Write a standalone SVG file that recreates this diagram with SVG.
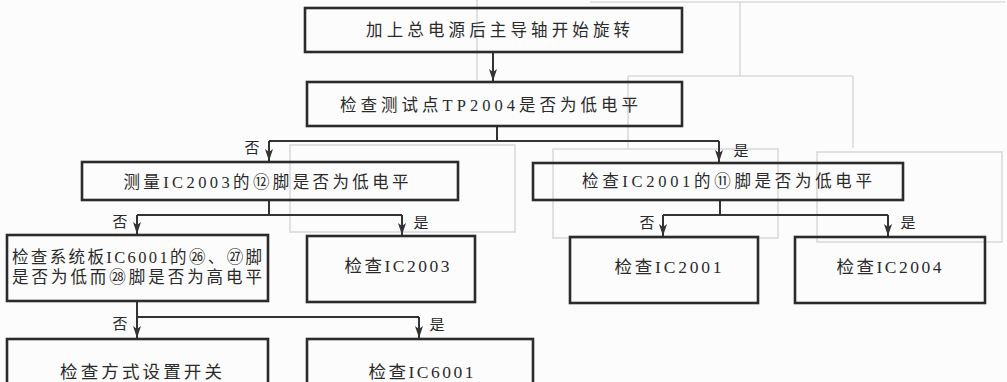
<svg xmlns="http://www.w3.org/2000/svg" width="1007" height="382" viewBox="0 0 1007 382">
<defs>
<marker id="arr" markerUnits="userSpaceOnUse" markerWidth="12" markerHeight="10" viewBox="0 0 12 10" refX="12" refY="5" orient="auto">
<path d="M0,1 L12,5 L0,9 L3,5 Z" fill="#333"/>
</marker>
<style>
.box{fill:none;stroke:#2b2b2b;stroke-width:2.6}
.t{font-family:"Liberation Serif","Noto Sans CJK SC",serif;font-size:16.5px;fill:#2a2a2a;text-anchor:middle}
.t2{font-family:"Liberation Serif","Noto Sans CJK SC",serif;font-size:17.5px;fill:#2a2a2a;text-anchor:middle}
.lb{font-family:"Noto Sans CJK SC",sans-serif;font-size:15px;fill:#2a2a2a;text-anchor:middle}
.c{fill:none;stroke:#333;stroke-width:2}
.ca{fill:none;stroke:#333;stroke-width:2;marker-end:url(#arr)}
.g{fill:none;stroke:#dadada;stroke-width:1.6}
</style>
</defs>
<rect width="1007" height="382" fill="#fcfcfc"/>
<g id="ghost">
<path class="g" d="M590,2 H1005 M740,2 V76 M628,76 H853 M628,76 V149 M853,76 V148 M477,0 V80"/>
<rect class="g" x="290" y="145" width="225" height="87"/>
<rect class="g" x="553" y="149" width="225" height="89"/>
<rect class="g" x="817" y="152" width="185" height="90"/>
</g>
<g id="connectors">
<path class="ca" d="M493,53 V81"/>
<path class="c" d="M497,127 V141 M269,141 H719"/>
<path class="ca" d="M269,141 V161"/>
<path class="ca" d="M719,141 V162"/>
<path class="c" d="M269,201 V215 M137,215 H402"/>
<path class="ca" d="M137,215 V234"/>
<path class="ca" d="M402,215 V235"/>
<path class="c" d="M720,201 V215 M663,215 H888"/>
<path class="ca" d="M663,215 V236"/>
<path class="ca" d="M888,215 V236"/>
<path class="c" d="M137,302 V317 H419"/>
<path class="ca" d="M137,317 V338"/>
<path class="ca" d="M419,317 V338"/>
<text class="lb" x="252" y="153">否</text>
<text class="lb" x="741" y="156">是</text>
<text class="lb" x="120" y="227">否</text>
<text class="lb" x="421" y="228">是</text>
<text class="lb" x="647" y="228">否</text>
<text class="lb" x="908" y="228">是</text>
<text class="lb" x="120" y="329">否</text>
<text class="lb" x="437" y="330">是</text>
</g>
<g id="n1"><rect class="box" x="305" y="8" width="377" height="44"/><text class="t" x="498" y="36" textLength="264" lengthAdjust="spacing">加上总电源后主导轴开始旋转</text></g>
<g id="n2"><rect class="box" x="307" y="82" width="375" height="44"/><text class="t" x="489" y="111" textLength="298" lengthAdjust="spacing">检查测试点TP2004是否为低电平</text></g>
<g id="n3"><rect class="box" x="82" y="162" width="376" height="38"/><text class="t" x="266" y="188" textLength="285" lengthAdjust="spacing">测量IC2003的⑫脚是否为低电平</text></g>
<g id="n4"><rect class="box" x="533" y="163" width="370" height="37"/><text class="t" x="727" y="187" textLength="290" lengthAdjust="spacing">检查IC2001的⑪脚是否为低电平</text></g>
<g id="n5"><rect class="box" x="7" y="235" width="261" height="66"/><text class="t" x="137" y="263" textLength="250" lengthAdjust="spacing">检查系统板IC6001的㉖、㉗脚</text><text class="t" x="137" y="283" textLength="250" lengthAdjust="spacing">是否为低而㉘脚是否为高电平</text></g>
<g id="n6"><rect class="box" x="307" y="236" width="168" height="66"/><text class="t2" x="397" y="272" textLength="105" lengthAdjust="spacing">检查IC2003</text></g>
<g id="n7"><rect class="box" x="570" y="237" width="188" height="66"/><text class="t2" x="668" y="273" textLength="107" lengthAdjust="spacing">检查IC2001</text></g>
<g id="n8"><rect class="box" x="795" y="237" width="190" height="66"/><text class="t2" x="889" y="273" textLength="105" lengthAdjust="spacing">检查IC2004</text></g>
<g id="n9"><rect class="box" x="7" y="339" width="261" height="60"/><text class="t2" x="141" y="378" textLength="162" lengthAdjust="spacing">检查方式设置开关</text></g>
<g id="n10"><rect class="box" x="307" y="339" width="226" height="60"/><text class="t2" x="421" y="378" textLength="105" lengthAdjust="spacing">检查IC6001</text></g>
</svg>
